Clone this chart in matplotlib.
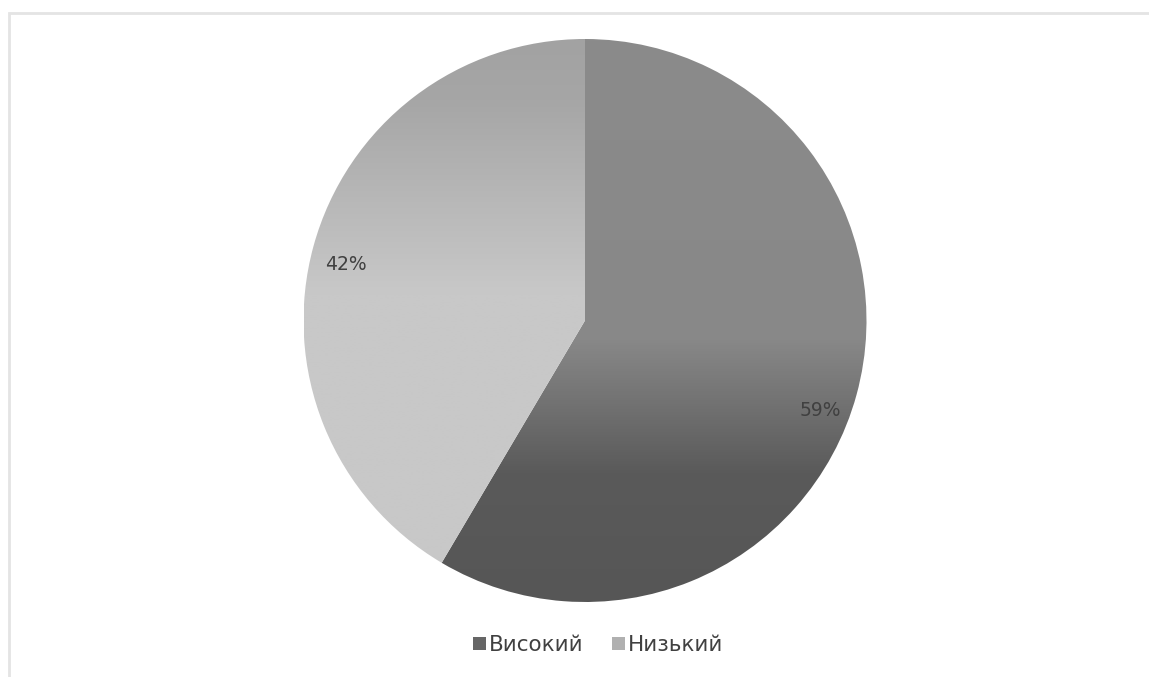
import numpy as np
import matplotlib
matplotlib.use("Agg")
from matplotlib import pyplot as plt
from matplotlib.colors import LinearSegmentedColormap
from matplotlib.patches import Rectangle, Patch

labels = ["Високий", "Низький"]
values = [58.5, 41.5]
pct_text = ["59%", "42%"]

plt.rcParams["font.family"] = ["DejaVu Sans"]

W, H = 1149, 677
fig = plt.figure(figsize=(W / 100, H / 100), dpi=100)
ax = fig.add_axes([0, 0, 1, 1])

cx, cy, r = 585, H - 320.5, 281.5

wedges, _ = ax.pie(
    values,
    center=(cx, cy),
    radius=r,
    startangle=90,
    counterclock=False,
    wedgeprops=dict(edgecolor="none", linewidth=0),
    frame=True,
)
ax.set_xlim(0, W)
ax.set_ylim(0, H)
ax.set_aspect("equal")
ax.axis("off")

# vertical gradients per slice (stop positions are fractions from pie bottom to top)
top, bot = cy + r, cy - r
def frac(ypix_from_top):
    return (H - ypix_from_top - bot) / (top - bot)

grad_stops = [
    [(0.0, "#565656"), (frac(473), "#5a5a5a"), (frac(340), "#888888"), (1.0, "#8b8b8b")],
    [(0.0, "#c8c8c8"), (frac(293), "#c8c8c8"), (frac(100), "#a6a6a6"), (1.0, "#a2a2a2")],
]
grad = np.linspace(0, 1, 512).reshape(-1, 1)
for w, stops in zip(wedges, grad_stops):
    w.set_facecolor("none")
    cmap = LinearSegmentedColormap.from_list("g", stops)
    im = ax.imshow(grad, cmap=cmap, origin="lower", aspect="auto",
                   extent=[cx - r, cx + r, bot, top], zorder=1,
                   interpolation="bilinear")
    im.set_clip_path(w)

# percentage labels
ax.text(820, H - 411, pct_text[0], fontsize=13.5, color="#404040",
        ha="center", va="center", zorder=3)
ax.text(346, H - 265, pct_text[1], fontsize=13.5, color="#404040",
        ha="center", va="center", zorder=3)

# legend
handles = [Patch(facecolor="#666666", edgecolor="none"),
           Patch(facecolor="#b0b0b0", edgecolor="none")]
leg = ax.legend(handles, labels, loc="center", bbox_to_anchor=(598 / W, 1 - 645 / H),
                ncol=2, frameon=False, fontsize=15.5, handlelength=0.6,
                handleheight=0.6, handletextpad=0.15, columnspacing=1.3)
for t in leg.get_texts():
    t.set_color("#404040")

# chart frame (partially cropped)
fig.patches.append(Rectangle((8.5 / W, -0.1), 1.2, (H - 12.5) / H + 0.1,
                             transform=fig.transFigure, fill=False,
                             edgecolor="#e4e4e4", linewidth=2))

fig.savefig("out.png", dpi=100)
